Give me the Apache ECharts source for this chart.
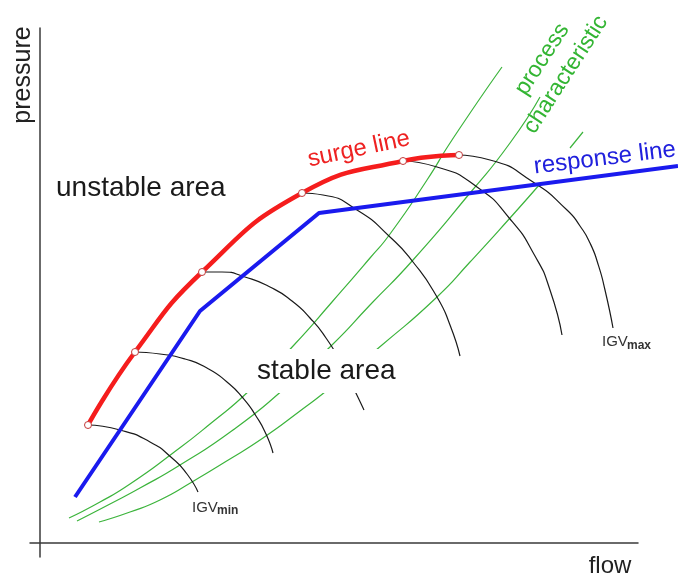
<!DOCTYPE html>
<html>
<head>
<meta charset="utf-8">
<title>surge line / response line</title>
<script src="https://cdn.jsdelivr.net/npm/echarts@6/dist/echarts.min.js"></script>
<style>
  html, body { margin: 0; padding: 0; background: #fff; }
  #chart { width: 678px; height: 574px; }
</style>
</head>
<body>
<div id="chart"></div>
<script>
// flow / pressure in arbitrary units

// surge line, one point per IGV position (the small circles)
const surgeLine = [[4.8, 11.8], [9.5, 19.1], [16.2, 27.1], [26.2, 35.0], [36.3, 38.2], [41.9, 38.8]];

// response line (controller set point)
const responseLine = [[3.5, 4.6], [16.0, 23.2], [27.9, 33.0], [63.8, 37.7]];

// compressor curves, IGV min -> IGV max
const igv1 = [[4.8, 11.8], [8.0, 11.3], [11.0, 10.1], [13.2, 8.5], [14.7, 6.9], [15.8, 5.1]];
const igv2 = [[9.5, 19.1], [12.0, 18.9], [14.5, 18.4], [16.7, 17.5], [18.7, 16.1], [20.3, 14.5], [21.6, 12.7], [22.6, 10.9], [23.3, 9.0]];
const igv3 = [[16.2, 27.1], [18.2, 27.1], [20.5, 26.6], [23.0, 25.6], [25.2, 24.2], [27.0, 22.5], [28.6, 20.5], [30.0, 18.2], [31.2, 15.8], [32.4, 13.3]];
const igv4 = [[26.3, 35.0], [28.3, 34.8], [31.7, 33.3], [35.0, 30.6], [37.3, 28.1], [39.7, 24.6], [41.0, 21.8], [42.0, 18.7]];
const igv5 = [[36.3, 38.2], [39.7, 37.6], [43.7, 35.6], [47.0, 32.4], [49.5, 28.7], [51.0, 25.3], [52.2, 20.8]];
const igv6 = [[41.8, 38.8], [45.0, 38.3], [49.3, 36.1], [52.7, 33.3], [54.0, 31.7], [55.0, 30.0], [55.8, 27.9], [56.5, 25.3], [57.3, 21.5]];

// process characteristics ('-' = gap behind the "response line" text)
const proc1 = [[2.9, 2.5], [6.0, 4.1], [9.0, 5.9], [13.3, 9.0], [17.0, 11.9], [21.0, 15.3], [25.4, 19.8], [29.2, 24.1], [33.0, 28.5], [35.0, 30.9], [38.7, 36.3], [41.2, 40.3], [46.2, 47.6]];
const proc2 = [[3.7, 2.2], [7.0, 3.9], [10.0, 5.5], [14.0, 7.8], [19.3, 11.3], [24.4, 15.4], [29.2, 19.8], [33.0, 23.8], [37.3, 28.3], [43.0, 35.0], [47.0, 40.0], [50.0, 44.6]];
const proc3 = [[5.9, 2.1], [9.0, 3.1], [12.0, 4.3], [15.2, 6.1], [18.5, 8.1], [22.3, 10.5], [26.0, 13.2], [29.0, 15.5], [34.2, 19.8], [39.7, 24.6], [43.0, 28.1], [47.0, 32.5], [50.0, 35.9], ['-', '-'], [53.0, 39.5], [54.3, 41.1]];

const FONT = '"Liberation Sans", Arial, sans-serif';

function curve(data, color, width, z) {
  return {
    type: 'line',
    xAxisIndex: 1,
    yAxisIndex: 1,
    data: data,
    smooth: 0.6,
    symbol: 'none',
    z: z,
    lineStyle: { color: color, width: width }
  };
}

function label(x, y, text, size, color, opts) {
  opts = opts || {};
  return {
    type: 'text',
    x: x,
    y: y,
    rotation: (opts.rotate || 0) * Math.PI / 180,
    z: 100,
    style: Object.assign({
      text: text,
      fill: color,
      font: (opts.weight || 'normal') + ' ' + size + 'px ' + FONT,
      align: opts.align || 'left',
      verticalAlign: 'middle'
    }, opts.style || {})
  };
}

const hiddenAxis = {
  axisLine: { show: false }, axisTick: { show: false },
  axisLabel: { show: false }, splitLine: { show: false }
};

const chart = echarts.init(document.getElementById('chart'));

chart.setOption({
  animation: false,
  backgroundColor: '#fff',
  // grid 0 carries the visible axes, grid 1 (same scale, wider) the curves
  grid: [
    { left: 30, right: 40, top: 28, bottom: 17 },
    { left: 30, right: 0, top: 28, bottom: 17 }
  ],
  xAxis: [
    {
      type: 'value', gridIndex: 0, min: -1, max: 59.8,
      axisLine: { onZero: true, lineStyle: { color: '#3a3a3a', width: 1.5 } },
      axisTick: { show: false }, axisLabel: { show: false }, splitLine: { show: false }
    },
    Object.assign({ type: 'value', gridIndex: 1, min: -1, max: 63.8 }, hiddenAxis)
  ],
  yAxis: [
    {
      type: 'value', gridIndex: 0, min: -1.4, max: 51.5,
      axisLine: { onZero: true, lineStyle: { color: '#3a3a3a', width: 1.5 } },
      axisTick: { show: false }, axisLabel: { show: false }, splitLine: { show: false }
    },
    Object.assign({ type: 'value', gridIndex: 1, min: -1.4, max: 51.5 }, hiddenAxis)
  ],
  series: [
    curve(proc1, '#3cb43c', 1.2, 2),
    curve(proc2, '#3cb43c', 1.2, 2),
    curve(proc3, '#3cb43c', 1.2, 2),
    curve(igv1, '#1a1a1a', 1.2, 3),
    curve(igv2, '#1a1a1a', 1.2, 3),
    curve(igv3, '#1a1a1a', 1.2, 3),
    curve(igv4, '#1a1a1a', 1.2, 3),
    curve(igv5, '#1a1a1a', 1.2, 3),
    curve(igv6, '#1a1a1a', 1.2, 3),
    {
      type: 'line', xAxisIndex: 1, yAxisIndex: 1, data: responseLine,
      symbol: 'none', z: 200,
      lineStyle: { color: '#1a1aee', width: 4 }
    },
    {
      type: 'line', xAxisIndex: 1, yAxisIndex: 1, data: surgeLine,
      smooth: 0.5, z: 210,
      symbol: 'circle', symbolSize: 7, showSymbol: true,
      lineStyle: { color: '#f51d1d', width: 4.5 },
      itemStyle: { color: '#fff', borderColor: '#c23a3a', borderWidth: 1 }
    }
  ],
  graphic: [
    label(23, 75, 'pressure', 25, '#222', { rotate: 90, align: 'center' }),
    label(610, 566, 'flow', 24, '#222', { align: 'center' }),
    label(56, 188, 'unstable area', 28, '#1a1a1a'),
    label(243, 371, 'stable area', 28, '#1a1a1a', {
      style: { backgroundColor: '#fff', padding: [11, 12, 5, 14] }
    }),
    label(308, 160, 'surge line', 24, '#ee2222', { rotate: 12 }),
    label(534, 167, 'response line', 24, '#2020dd', { rotate: 7 }),
    label(554, 67, 'process\ncharacteristic', 23, '#33b533', {
      rotate: 57, align: 'center', style: { lineHeight: 28 }
    }),
    label(192, 508, 'IGV', 15, '#333'),
    label(217, 511, 'min', 12, '#333', { weight: 'bold' }),
    label(602, 342, 'IGV', 15, '#333'),
    label(627, 346, 'max', 12, '#333', { weight: 'bold' })
  ]
});
</script>
</body>
</html>
